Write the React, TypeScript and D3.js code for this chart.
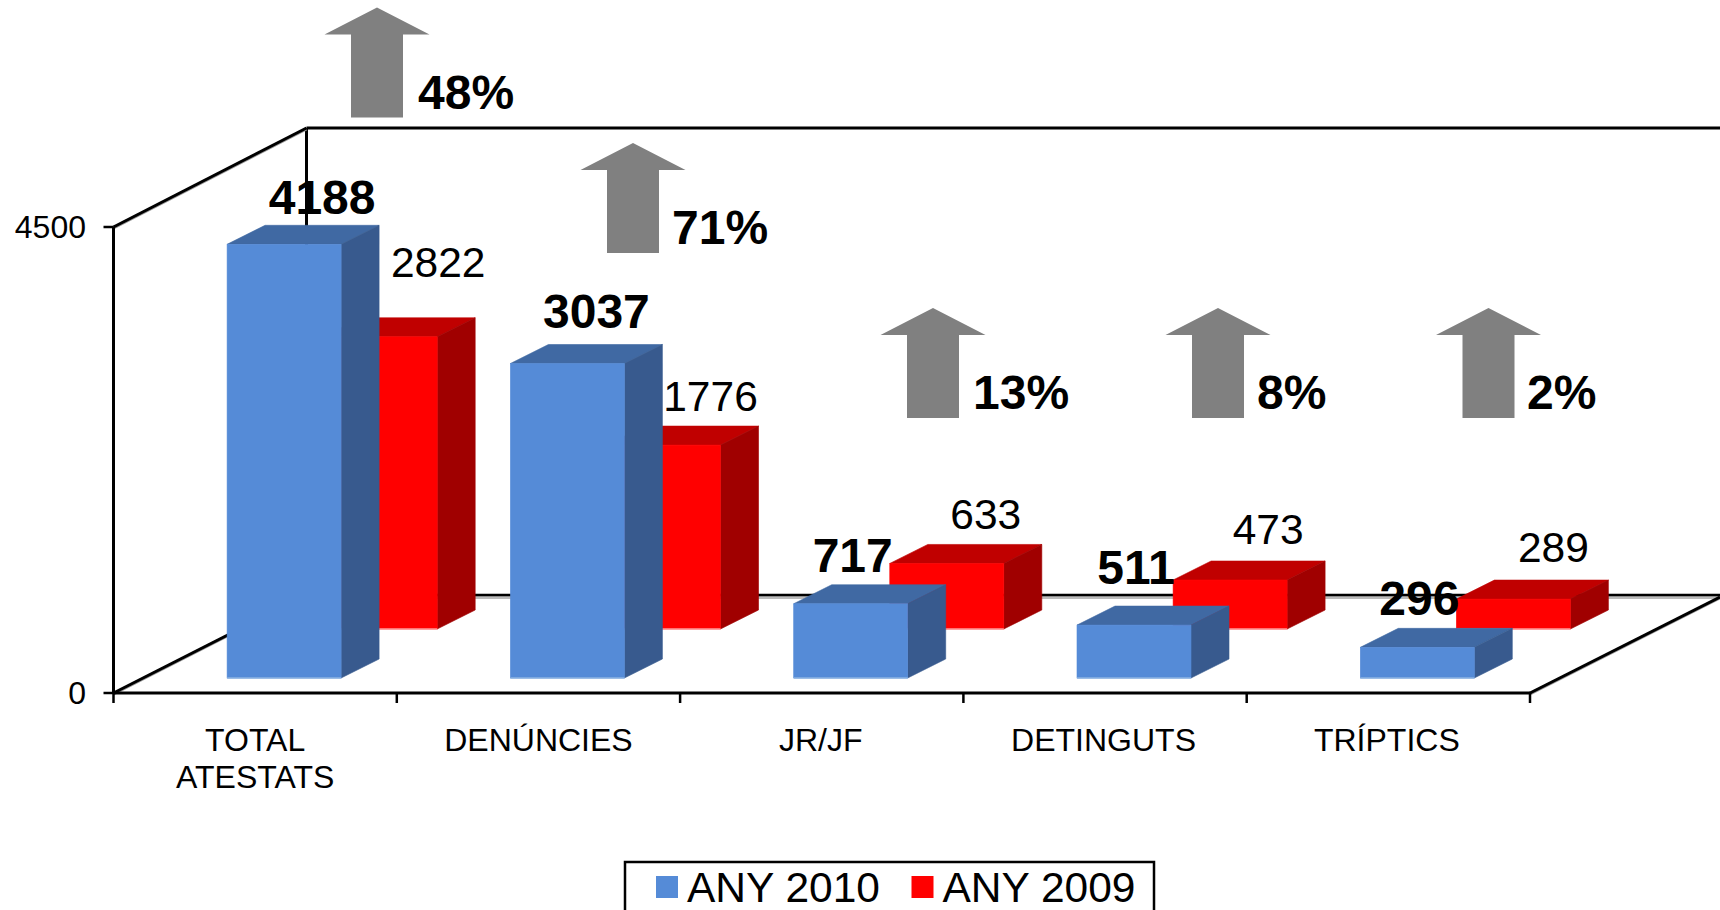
import * as d3 from "d3";

const categories = ["TOTAL ATESTATS", "DENÚNCIES", "JR/JF", "DETINGUTS", "TRÍPTICS"];
const any2010 = [4188, 3037, 717, 511, 296];
const any2009 = [2822, 1776, 633, 473, 289];
const increases = ["48%", "71%", "13%", "8%", "2%"];
const yTicks = [0, 4500];

// hand-placed labels, the original slide has them dragged around
const label2010Offset = [[38, -30], [29, -36], [2, -32], [2, -41], [2, -32]];
const label2009Offset = [[58, -60], [47, -34], [39, -34], [38, -36], [40, -37]];
const arrowCenter = [377, 633, 933, 1218, 1488.5];
const arrowTip = [7.5, 143, 308, 308, 308];
const pctOffset = [41, 39, 40, 39, 38.5];
const categoryNudge = [0, 0, -1, -1.5, -1.5];

const FONT = "'Liberation Sans', Arial, sans-serif";
const width = 1720;
const height = 910;

const floorLeft = 113.5;
const floorRight = 1530;
const floorY = 693;
const topY = 227;
// depth of the 3d box
const wallDx = 193;
const wallDy = -98;

const x = d3.scaleBand<string>().domain(categories).range([floorLeft, floorRight]);
const y = d3.scaleLinear().domain([0, 4500]).range([floorY, topY]);

const barW = 114;
const barDx = 38;
const barDy = -19;

const series = [
  { name: "ANY 2009", values: any2009, xOff: 113 + 96.7, yOff: -64, front: "#ff0000", side: "#a00000", top: "#c00000", edge: "#ff9a9a" },
  { name: "ANY 2010", values: any2010, xOff: 113.6, yOff: -15, front: "#558bd7", side: "#385a8e", top: "#4069a3", edge: "#8db3e2" },
];

function poly(points: number[][]) {
  return d3.line()(points as [number, number][]) + "Z";
}

function Bar({ left, top, bottom, s }: any) {
  const right = left + barW;
  return (
    <g strokeWidth={0.6}>
      <path d={poly([[left, top], [right, top], [right + barDx, top + barDy], [left + barDx, top + barDy]])} fill={s.top} stroke={s.top} />
      <path d={poly([[right, top], [right + barDx, top + barDy], [right + barDx, bottom + barDy], [right, bottom]])} fill={s.side} stroke={s.side} />
      <rect x={left} y={top} width={barW} height={bottom - top} fill={s.front} stroke={s.front} />
      <line x1={left} x2={right} y1={bottom} y2={bottom} stroke={s.edge} strokeWidth={1.5} />
    </g>
  );
}

function Arrow({ cx, tip }: { cx: number; tip: number }) {
  const p = d3.path();
  p.moveTo(cx, tip);
  p.lineTo(cx + 52.5, tip + 27);
  p.lineTo(cx + 26, tip + 27);
  p.lineTo(cx + 26, tip + 110);
  p.lineTo(cx - 26, tip + 110);
  p.lineTo(cx - 26, tip + 27);
  p.lineTo(cx - 52.5, tip + 27);
  p.closePath();
  return <path d={p.toString()} fill="#808080" />;
}

export default function App() {
  const step = x.step();
  const xTicks = d3.range(categories.length + 1).map((i) => floorLeft + i * step);
  const backFloorY = floorY + wallDy;
  const backTopY = topY + wallDy - 1;
  const backLeft = floorLeft + wallDx;

  return (
    <svg width={width} height={height} style={{ position: "absolute", left: 0, top: 0, fontFamily: FONT }}>
      <rect width={width} height={height} fill="#fff" />

      {/* walls and floor */}
      <g fill="none" stroke="#000" strokeWidth={3}>
        <line x1={backLeft} x2={width} y1={backTopY} y2={backTopY} />
        <line x1={backLeft} x2={backLeft} y1={backTopY} y2={backFloorY} />
        <line x1={backLeft} x2={width} y1={backFloorY + 2.5} y2={backFloorY + 2.5} stroke="#bbb" />
        <line x1={backLeft} x2={width} y1={backFloorY} y2={backFloorY} strokeWidth={2.5} />
        <line x1={floorLeft} x2={backLeft} y1={topY + 0.8} y2={backTopY + 0.8} stroke="#999" />
        <line x1={floorLeft} x2={backLeft} y1={topY} y2={backTopY} />
        <line x1={floorLeft} x2={backLeft} y1={floorY + 0.8} y2={backFloorY + 0.8} stroke="#999" />
        <line x1={floorLeft} x2={backLeft} y1={floorY} y2={backFloorY} />
        <line x1={floorRight} x2={width} y1={floorY + 0.8} y2={floorY - 95.2} stroke="#999" />
        <line x1={floorRight} x2={width} y1={floorY} y2={floorY - 96} />
      </g>

      {/* axes */}
      <g stroke="#000" strokeWidth={3}>
        <line x1={floorLeft} x2={floorLeft} y1={topY} y2={floorY} />
        <line x1={floorLeft} x2={floorRight} y1={floorY} y2={floorY} />
        {xTicks.map((t) => (
          <line key={t} x1={t} x2={t} y1={floorY} y2={floorY + 10} strokeWidth={2.5} />
        ))}
        {yTicks.map((t) => (
          <line key={t} x1={floorLeft - 10} x2={floorLeft} y1={y(t)} y2={y(t)} strokeWidth={2.5} />
        ))}
      </g>
      {yTicks.map((t) => (
        <text key={t} x={86} y={y(t) + 11} textAnchor="end" fontSize={32}>
          {t}
        </text>
      ))}

      {/* bars, back series first */}
      {series.map((s) => (
        <g key={s.name}>
          {categories.map((c, i) => (
            <Bar
              key={c}
              s={s}
              left={(x(c) as number) + s.xOff}
              top={y(s.values[i]) + s.yOff}
              bottom={y(0) + s.yOff}
            />
          ))}
        </g>
      ))}

      {/* value labels */}
      {categories.map((c, i) => {
        const b = series[1];
        const r = series[0];
        const bx = (x(c) as number) + b.xOff + barW / 2;
        const rx = (x(c) as number) + r.xOff + barW / 2;
        return (
          <g key={c} textAnchor="middle">
            <text x={rx + label2009Offset[i][0]} y={y(any2009[i]) + r.yOff + label2009Offset[i][1]} fontSize={42.5}>
              {any2009[i]}
            </text>
            <text x={bx + label2010Offset[i][0]} y={y(any2010[i]) + b.yOff + label2010Offset[i][1]} fontSize={48} fontWeight="bold">
              {any2010[i]}
            </text>
          </g>
        );
      })}

      {/* category labels */}
      {categories.map((c, k) => {
        const cx = (x(c) as number) + step / 2 + categoryNudge[k];
        const lines = c === "TOTAL ATESTATS" ? c.split(" ") : [c];
        return (
          <text key={c} textAnchor="middle" fontSize={32}>
            {lines.map((l, i) => (
              <tspan key={l} x={cx} y={751 + i * 37}>
                {l}
              </tspan>
            ))}
          </text>
        );
      })}

      {/* growth arrows */}
      {increases.map((pct, i) => (
        <g key={pct}>
          <Arrow cx={arrowCenter[i]} tip={arrowTip[i]} />
          <text x={arrowCenter[i] + pctOffset[i]} y={arrowTip[i] + 101} fontSize={48} fontWeight="bold">
            {pct}
          </text>
        </g>
      ))}

      {/* legend, its bottom edge falls off the page like in the original */}
      <rect x={625} y={862} width={529} height={60} fill="#fff" stroke="#000" strokeWidth={2.5} />
      <rect x={656} y={876} width={22} height={22} fill="#558bd7" />
      <text x={687} y={902} fontSize={42.5}>ANY 2010</text>
      <rect x={911.5} y={876} width={22} height={22} fill="#ff0000" />
      <text x={942.5} y={902} fontSize={42.5}>ANY 2009</text>
    </svg>
  );
}
